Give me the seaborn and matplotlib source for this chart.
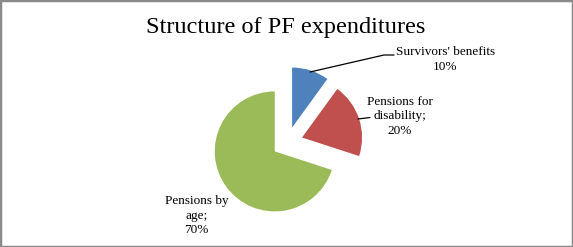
import matplotlib
matplotlib.use("Agg")
import matplotlib.pyplot as plt
import seaborn as sns
from matplotlib.patches import Rectangle

# Data
categories = ["Survivors' benefits", "Pensions for\ndisability;", "Pensions by\nage;"]
values = [10, 20, 70]
pct_labels = ["10%", "20%", "70%"]
title = "Structure of PF expenditures"

sns.set_theme(style="white")
plt.rcParams['font.family'] = ['Liberation Serif', 'DejaVu Serif']

colors = sns.color_palette(["#4F81BD", "#C0504D", "#9BBB59"])

W, H = 573, 247
fig = plt.figure(figsize=(W / 100, H / 100), dpi=100)
fig.patch.set_facecolor("white")
ax = fig.add_axes([0, 0, 1, 1])

cx, cy, r = 287.3, H - 142.3, 60
ax.pie(values, colors=colors, startangle=90, counterclock=False,
       radius=r, center=(cx, cy), explode=[15.5, 15.5, 15.5],
       wedgeprops=dict(linewidth=0), frame=True)

ax.set_xlim(0, W)
ax.set_ylim(0, H)
ax.set_aspect('equal')
ax.axis('off')

fs = 9.5
ax.text(445.5, H - 59.5, categories[0] + "\n" + pct_labels[0], ha='center', va='center',
        fontsize=fs, linespacing=1.25, color='black')
ax.text(399.5, H - 116.5, categories[1] + "\n" + pct_labels[1], ha='center', va='center',
        fontsize=fs, linespacing=1.25, color='black')
ax.text(196.5, H - 215.5, categories[2] + "\n" + pct_labels[2], ha='center', va='center',
        fontsize=fs, linespacing=1.25, color='black')

# leader lines
ax.plot([310, 384, 394], [H - 72, H - 55, H - 55], color='black', lw=0.9)
ax.plot([358, 370], [H - 119, H - 117.5], color='black', lw=0.9)

ax.text(286, H - 27.5, title, ha='center', va='center', fontsize=17.5, color='black')

fig.patches.append(Rectangle((0, 0), 1, 1, transform=fig.transFigure, fill=False,
                             edgecolor='#8a8a8a', linewidth=2.5))

fig.savefig("out.png", dpi=100)
